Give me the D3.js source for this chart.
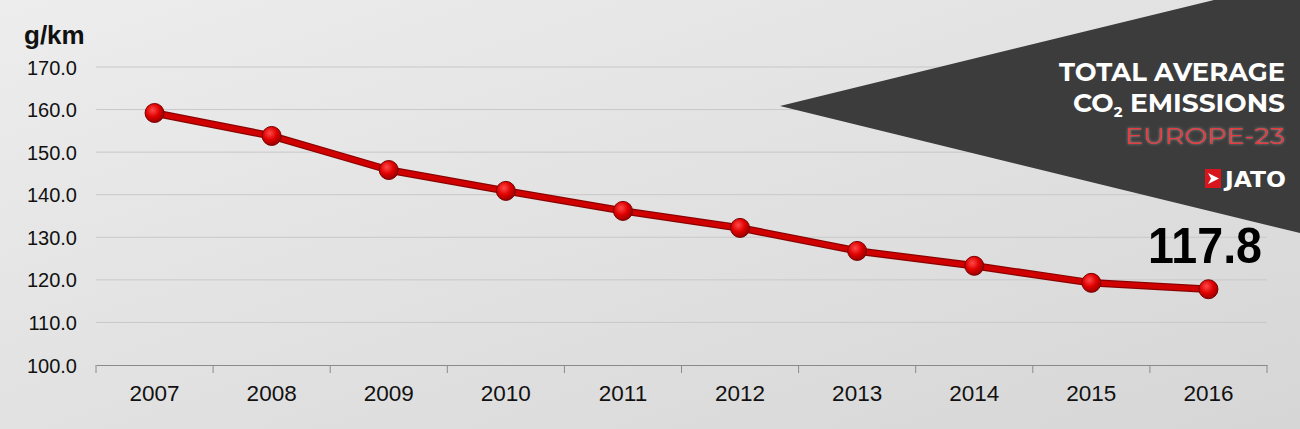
<!DOCTYPE html>
<html>
<head>
<meta charset="utf-8">
<script src="https://cdn.jsdelivr.net/npm/d3@7"></script>
<style>
  body { margin: 0; padding: 0; }
  svg { display: block; }
</style>
</head>
<body>
<div id="canvas"></div>
<script>
// data
const years = ["2007", "2008", "2009", "2010", "2011", "2012", "2013", "2014", "2015", "2016"];
const emissions = [159.2, 153.8, 145.8, 140.9, 136.2, 132.2, 126.8, 123.3, 119.3, 117.8];
const yTicks = [100, 110, 120, 130, 140, 150, 160, 170];
const titleLines = ["TOTAL AVERAGE", "EMISSIONS"];
const regionLabel = "EUROPE-23";

const width = 1300, height = 429;
const margin = { left: 96, right: 33, top: 67, bottom: 64 };

const svg = d3.select("#canvas").append("svg")
    .attr("width", width)
    .attr("height", height);

const defs = svg.append("defs");
const bg = defs.append("linearGradient").attr("id", "bg")
    .attr("x1", 0).attr("y1", 0).attr("x2", 1).attr("y2", 1);
bg.append("stop").attr("offset", "0%").attr("stop-color", "#ededed");
bg.append("stop").attr("offset", "100%").attr("stop-color", "#d6d6d6");

const ball = defs.append("radialGradient").attr("id", "ball")
    .attr("cx", "40%").attr("cy", "35%").attr("r", "65%");
ball.append("stop").attr("offset", "0%").attr("stop-color", "#ff4a4a");
ball.append("stop").attr("offset", "55%").attr("stop-color", "#e00000");
ball.append("stop").attr("offset", "100%").attr("stop-color", "#9a0000");

const glow = defs.append("filter").attr("id", "glow")
    .attr("x", "-10%").attr("y", "-30%").attr("width", "120%").attr("height", "160%");
glow.append("feGaussianBlur").attr("in", "SourceAlpha").attr("stdDeviation", 1.5).attr("result", "b");
glow.append("feFlood").attr("flood-color", "#ffffff").attr("flood-opacity", 0.4);
glow.append("feComposite").attr("in2", "b").attr("operator", "in").attr("result", "g");
const gm = glow.append("feMerge");
gm.append("feMergeNode").attr("in", "g");
gm.append("feMergeNode").attr("in", "SourceGraphic");

svg.append("rect")
    .attr("width", width)
    .attr("height", height)
    .attr("fill", "url(#bg)");

const x = d3.scaleBand()
    .domain(years)
    .range([margin.left, width - margin.right]);

const y = d3.scaleLinear()
    .domain([100, 170])
    .range([height - margin.bottom, margin.top]);

// gridlines
svg.append("g")
    .selectAll("line")
    .data(yTicks.filter(d => d > 100))
    .join("line")
    .attr("x1", margin.left)
    .attr("x2", width - margin.right)
    .attr("y1", d => y(d))
    .attr("y2", d => y(d))
    .attr("stroke", "#c8c8c8")
    .attr("stroke-width", 1);

// y axis labels
svg.append("g")
    .selectAll("text")
    .data(yTicks)
    .join("text")
    .attr("x", 77)
    .attr("y", d => y(d) + 7.5)
    .attr("text-anchor", "end")
    .attr("font-family", "Liberation Sans, Arial, sans-serif")
    .attr("font-size", 20)
    .attr("fill", "#111")
    .text(d => d.toFixed(1));

svg.append("text")
    .attr("x", 24)
    .attr("y", 44)
    .attr("font-family", "Liberation Sans, Arial, sans-serif")
    .attr("font-weight", "bold")
    .attr("font-size", 26)
    .attr("fill", "#111")
    .text("g/km");

// x axis
const xAxis = svg.append("g")
    .attr("transform", `translate(0,${y(100)})`)
    .call(d3.axisBottom(x).tickSize(0).tickPadding(20));
xAxis.select(".domain").attr("stroke", "#8a8a8a");
xAxis.selectAll("text")
    .attr("font-family", "Liberation Sans, Arial, sans-serif")
    .attr("font-size", 22.5)
    .attr("fill", "#111");

const bounds = years.map(d => x(d)).concat([width - margin.right]);
xAxis.selectAll(".sep")
    .data(bounds)
    .join("line")
    .attr("class", "sep")
    .attr("x1", d => d).attr("x2", d => d)
    .attr("y1", 0).attr("y2", 8)
    .attr("stroke", "#8a8a8a");

// triangle banner
svg.append("polygon")
    .attr("points", "780,106 1300,-21 1300,233")
    .attr("fill", "#3c3c3c");

const tFont = "Montserrat, 'DejaVu Sans', Verdana, sans-serif";
svg.append("text")
    .attr("x", 1285).attr("y", 81)
    .attr("text-anchor", "end")
    .attr("font-family", tFont).attr("font-weight", "bold")
    .attr("font-size", 25).attr("fill", "#fff")
    .attr("textLength", 226).attr("lengthAdjust", "spacingAndGlyphs")
    .text(titleLines[0]);

const co2 = svg.append("text")
    .attr("x", 1285).attr("y", 112)
    .attr("text-anchor", "end")
    .attr("font-family", tFont).attr("font-weight", "bold")
    .attr("font-size", 25).attr("fill", "#fff")
    .attr("textLength", 212).attr("lengthAdjust", "spacingAndGlyphs");
co2.append("tspan").text("CO");
co2.append("tspan").attr("font-size", 14).attr("dy", 5).text("2");
co2.append("tspan").attr("dy", -5).text(" " + titleLines[1]);

svg.append("text")
    .attr("x", 1285).attr("y", 144)
    .attr("text-anchor", "end")
    .attr("font-family", tFont)
    .attr("font-size", 23).attr("fill", "#e43a3f")
    .attr("textLength", 160).attr("lengthAdjust", "spacingAndGlyphs")
    .attr("filter", "url(#glow)")
    .text(regionLabel);

// JATO logo
svg.append("rect")
    .attr("x", 1205).attr("y", 169)
    .attr("width", 16).attr("height", 19)
    .attr("fill", "#d8141c");
svg.append("path")
    .attr("d", "M1208,173 L1219,178.5 L1208,184 L1211,178.5 Z")
    .attr("fill", "#fff");
svg.append("text")
    .attr("x", 1286).attr("y", 187)
    .attr("text-anchor", "end")
    .attr("font-family", "'DejaVu Sans', sans-serif").attr("font-weight", "bold")
    .attr("font-size", 22).attr("fill", "#fff")
    .attr("textLength", 61).attr("lengthAdjust", "spacingAndGlyphs")
    .text("JATO");

// line
const cx = d => x(d) + x.bandwidth() / 2;
const line = d3.line()
    .x((d, i) => cx(years[i]))
    .y(d => y(d));

svg.append("path")
    .datum(emissions)
    .attr("d", line)
    .attr("fill", "none")
    .attr("stroke", "#8a0000")
    .attr("stroke-width", 7.5)
    .attr("stroke-linejoin", "round");
svg.append("path")
    .datum(emissions)
    .attr("d", line)
    .attr("fill", "none")
    .attr("stroke", "#d00000")
    .attr("stroke-width", 5)
    .attr("stroke-linejoin", "round");

svg.append("g")
    .selectAll("circle")
    .data(emissions)
    .join("circle")
    .attr("cx", (d, i) => cx(years[i]))
    .attr("cy", d => y(d))
    .attr("r", 9.5)
    .attr("fill", "url(#ball)")
    .attr("stroke", "#7a0000")
    .attr("stroke-width", 1);

// last value label
svg.append("text")
    .attr("x", 1262).attr("y", 263)
    .attr("text-anchor", "end")
    .attr("font-family", "Liberation Sans, Arial, sans-serif")
    .attr("font-weight", "bold")
    .attr("font-size", 50)
    .attr("fill", "#000")
    .attr("textLength", 114).attr("lengthAdjust", "spacingAndGlyphs")
    .text(emissions[emissions.length - 1].toFixed(1));
</script>
</body>
</html>
